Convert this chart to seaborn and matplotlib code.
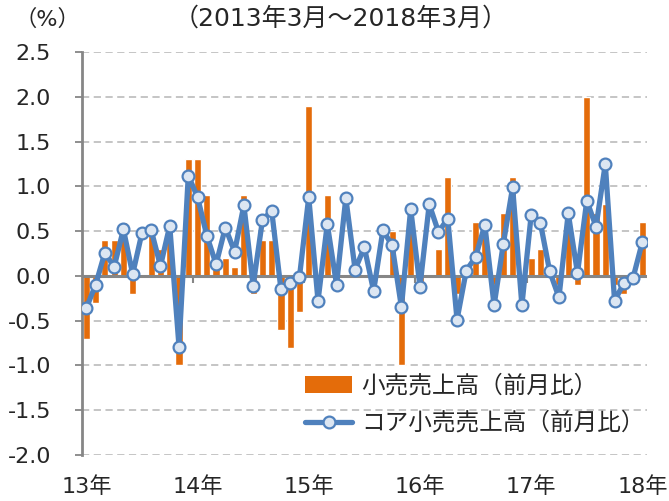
import numpy as np
import pandas as pd
import matplotlib
matplotlib.use("Agg")
import matplotlib.pyplot as plt
import seaborn as sns
from matplotlib.patches import Patch
from matplotlib.lines import Line2D

# ---- data (2013-03 .. 2018-03, monthly, % m/m) ----
months = pd.period_range("2013-03", "2018-03", freq="M").strftime("%Y-%m").tolist()
retail = [-0.7, -0.3, 0.4, 0.4, 0.6, -0.2, 0.0, 0.5, 0.3, 0.5,
          -1.0, 1.3, 1.3, 0.9, 0.1, 0.2, 0.1, 0.9, -0.2, 0.4,
          0.4, -0.6, -0.8, -0.4, 1.9, -0.1, 0.9, -0.1, 0.0, 0.1,
          0.0, -0.1, 0.0, 0.5, -1.0, 0.7, -0.1, 0.0, 0.3, 1.1,
          -0.2, 0.0, 0.6, 0.6, -0.1, 0.7, 1.1, 0.0, 0.2, 0.3,
          0.0, -0.1, 0.6, -0.1, 2.0, 0.7, 0.8, -0.1, -0.2, -0.1,
          0.6]
core = [-0.36, -0.10, 0.26, 0.10, 0.52, 0.02, 0.48, 0.51, 0.11, 0.56,
        -0.79, 1.12, 0.88, 0.45, 0.13, 0.54, 0.27, 0.79, -0.11, 0.62,
        0.73, -0.15, -0.08, -0.01, 0.88, -0.28, 0.58, -0.10, 0.87, 0.07,
        0.32, -0.17, 0.51, 0.34, -0.35, 0.75, -0.12, 0.80, 0.49, 0.64,
        -0.49, 0.06, 0.21, 0.57, -0.33, 0.36, 0.99, -0.33, 0.68, 0.59,
        0.05, -0.24, 0.70, 0.03, 0.84, 0.55, 1.25, -0.28, -0.08, -0.02,
        0.38]
year_labels = ["13年", "14年", "15年", "16年", "17年", "18年"]
y_ticks = [-2.0, -1.5, -1.0, -0.5, 0.0, 0.5, 1.0, 1.5, 2.0, 2.5]
label_retail = "小売売上高（前月比）"
label_core = "コア小売売上高（前月比）"
title = "（2013年3月～2018年3月）"
unit = "（%）"

df = pd.DataFrame({"idx": np.arange(len(months)), "month": months,
                   "retail": retail, "core": core})

sns.set_style("white")
plt.rcParams["font.family"] = ["DejaVu Sans", "Noto Sans CJK JP"]

ORANGE = "#E46C0A"
BLUE = "#4F81BD"
MFACE = "#DCE6F2"
GRAY = "#868686"

fig = plt.figure(figsize=(6.69, 5.01), dpi=100)
W, H = 669, 501
ax = fig.add_axes([81.7 / W, 46 / H, (647 - 81.7) / W, (455 - 52) / H])

sns.barplot(data=df, x="idx", y="retail", color=ORANGE, saturation=1,
            width=0.78, ax=ax, zorder=1)
ax.axhline(0, color=GRAY, lw=2.2, zorder=1.5)
sns.lineplot(data=df, x="idx", y="core", color=BLUE, lw=3.8, marker="o",
             markersize=8.5, markerfacecolor=MFACE, markeredgecolor=BLUE,
             markeredgewidth=1.6, ax=ax, zorder=3)

ax.set_xlim(-0.5, len(months) - 0.5)
ax.set_ylim(-2.0, 2.5)
ax.set_yticks(y_ticks)
ax.set_yticklabels([f"{v:.1f}" for v in y_ticks])
ax.set_xticks(np.arange(0, len(months), 12))
ax.set_xticklabels(year_labels)
ax.set_xlabel("")
ax.set_ylabel("")

ax.set_axisbelow(True)
ax.yaxis.grid(True, linestyle=(0, (4, 2.5)), color="#c0c0c0", lw=1.3)
ax.xaxis.grid(False)
for s in ["top", "right", "bottom"]:
    ax.spines[s].set_visible(False)
ax.spines["left"].set_color(GRAY)
ax.spines["left"].set_linewidth(2)
ax.tick_params(axis="y", direction="out", length=5, width=1.3, color=GRAY,
               pad=17, labelsize=16, left=True)
ax.tick_params(axis="x", length=0, pad=15, labelsize=16)

# year boundary ticks on the zero line
sec = ax.secondary_xaxis(2.0 / 4.5)
sec.set_xticks(np.arange(11.5, len(months), 12))
sec.tick_params(axis="x", direction="out", length=5, width=1.5, color=GRAY,
                labelbottom=False)
sec.spines["bottom"].set_visible(False)
sec.set_zorder(1.5)

fig.text(15 / W, 1 - 19 / H, unit, fontsize=16, ha="left", va="center")
fig.text(341 / W, 1 - 19 / H, title, fontsize=18, ha="center", va="center")

handles = [Patch(facecolor=ORANGE, edgecolor="none"),
           Line2D([], [], color=BLUE, lw=3.8, marker="o", markersize=8.5,
                  markerfacecolor=MFACE, markeredgecolor=BLUE,
                  markeredgewidth=1.6)]
leg = ax.legend(handles, [label_retail, label_core], loc="upper left",
                bbox_to_anchor=(305 / W, 1 - 374 / H),
                bbox_transform=fig.transFigure, frameon=False,
                fontsize=17, borderpad=0, borderaxespad=0,
                handlelength=2.0, handletextpad=0.4, labelspacing=0.55)

fig.savefig("out.png", dpi=100)
